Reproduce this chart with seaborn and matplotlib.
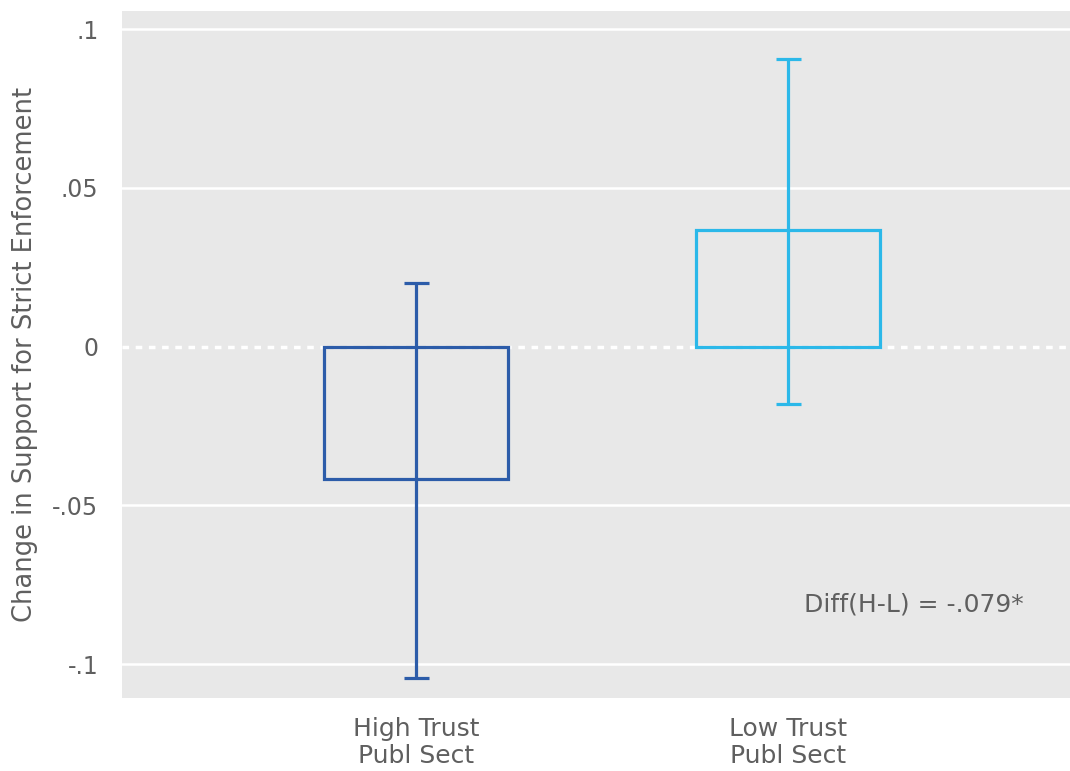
import matplotlib
matplotlib.use("Agg")
import matplotlib.pyplot as plt
import seaborn as sns
import pandas as pd

# Estimated change in support for strict enforcement, by trust group
groups = ["High Trust\nPubl Sect", "Low Trust\nPubl Sect"]
estimates = [-0.0417, 0.0367]
ci_low = [-0.1044, -0.0181]
ci_high = [0.0200, 0.0906]
colors = ["#2c5ca9", "#2bb8e9"]
yticks = [-0.1, -0.05, 0.0, 0.05, 0.1]
ytick_labels = ["-.1", "-.05", "0", ".05", ".1"]
note = "Diff(H-L) = -.079*"

sns.set_theme(style="darkgrid")
plt.rcParams["font.family"] = ["DejaVu Sans"]

text_color = "#5f5f5f"
fig = plt.figure(figsize=(10.7, 7.71), dpi=100)
ax = fig.add_axes([122 / 1070, (771 - 698) / 771, (1070 - 122) / 1070, (698 - 11) / 771])
ax.set_facecolor("#e8e8e8")

df = pd.DataFrame({"group": groups, "estimate": estimates})
sns.barplot(data=df, x="group", y="estimate", hue="group", palette=colors,
            fill=False, width=0.495, linewidth=2.3, legend=False, ax=ax,
            errorbar=None, zorder=3)

for i, (est, lo, hi, c) in enumerate(zip(estimates, ci_low, ci_high, colors)):
    ax.errorbar(i, est, yerr=[[est - lo], [hi - est]], fmt="none", ecolor=c,
                elinewidth=2.3, capsize=9, capthick=2.3, zorder=4)

# solid gridlines away from zero, dotted reference line at zero
ax.grid(False)
for t in yticks:
    if t == 0:
        ax.axhline(t, color="white", linestyle=(0, (1.9, 1.9)), linewidth=2.5, zorder=0.8)
    else:
        ax.axhline(t, color="white", linewidth=1.8, zorder=0.6)

ax.set_xlim(-0.79, 1.758)
ax.set_ylim(-0.1107, 0.1057)
ax.set_yticks(yticks)
ax.set_yticklabels(ytick_labels)

ax.tick_params(axis="both", colors="#dedede", length=11, width=2,
               labelcolor=text_color, pad=6)
ax.tick_params(axis="y", labelsize=17)
ax.tick_params(axis="x", labelsize=18, pad=3)
for lbl in ax.get_xticklabels():
    lbl.set_linespacing(1.12)
ax.set_xlabel("")
ax.set_ylabel("Change in Support for Strict Enforcement", fontsize=18.5,
              color=text_color, labelpad=10)

ax.text(1.043, -0.0811, note, fontsize=18, color=text_color, va="center", ha="left")

for s in ax.spines.values():
    s.set_visible(False)

fig.savefig("out.png", dpi=100)
